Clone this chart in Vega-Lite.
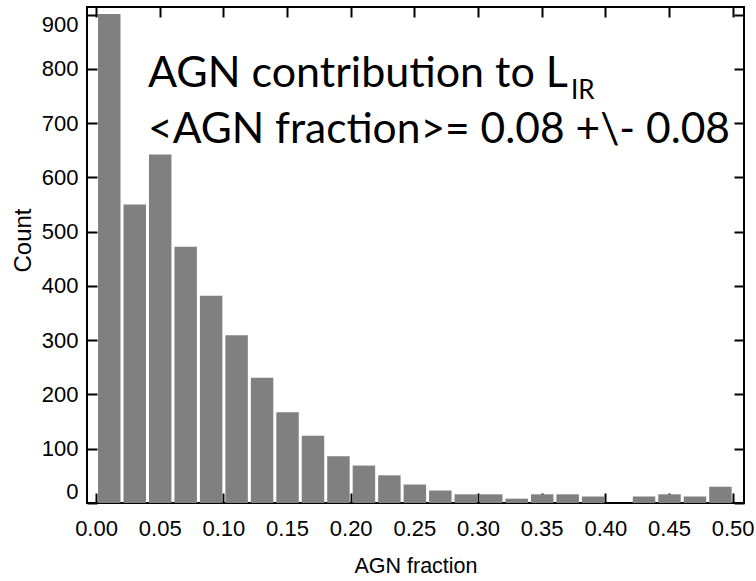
{
  "$schema": "https://vega.github.io/schema/vega-lite/v6.json",
  "width": 657,
  "height": 496,
  "autosize": {"type": "none"},
  "padding": {"left": 87, "top": 7, "right": 12, "bottom": 78},
  "background": "white",
  "config": {
    "view": {"stroke": "black", "strokeWidth": 2},
    "axis": {
      "domain": false,
      "grid": false,
      "tickColor": "black",
      "tickWidth": 2,
      "tickSize": -10,
      "labelFont": "Liberation Sans",
      "labelFontSize": 22,
      "labelColor": "black",
      "titleFont": "Liberation Sans",
      "titleFontSize": 24,
      "titleFontWeight": "normal",
      "titleColor": "black"
    }
  },
  "data": {
    "values": [
      {"start": 0.00, "end": 0.02, "count": 901},
      {"start": 0.02, "end": 0.04, "count": 550},
      {"start": 0.04, "end": 0.06, "count": 642},
      {"start": 0.06, "end": 0.08, "count": 472},
      {"start": 0.08, "end": 0.10, "count": 382},
      {"start": 0.10, "end": 0.12, "count": 309},
      {"start": 0.12, "end": 0.14, "count": 231},
      {"start": 0.14, "end": 0.16, "count": 167},
      {"start": 0.16, "end": 0.18, "count": 124},
      {"start": 0.18, "end": 0.20, "count": 86},
      {"start": 0.20, "end": 0.22, "count": 69},
      {"start": 0.22, "end": 0.24, "count": 51},
      {"start": 0.24, "end": 0.26, "count": 34},
      {"start": 0.26, "end": 0.28, "count": 23},
      {"start": 0.28, "end": 0.30, "count": 16},
      {"start": 0.30, "end": 0.32, "count": 16},
      {"start": 0.32, "end": 0.34, "count": 8},
      {"start": 0.34, "end": 0.36, "count": 16},
      {"start": 0.36, "end": 0.38, "count": 16},
      {"start": 0.38, "end": 0.40, "count": 12},
      {"start": 0.40, "end": 0.42, "count": 0},
      {"start": 0.42, "end": 0.44, "count": 12},
      {"start": 0.44, "end": 0.46, "count": 16},
      {"start": 0.46, "end": 0.48, "count": 12},
      {"start": 0.48, "end": 0.50, "count": 30}
    ]
  },
  "layer": [
    {
      "mark": {"type": "bar", "color": "#808080", "binSpacing": 3},
      "encoding": {
        "x": {
          "field": "start", "type": "quantitative", "bin": "binned",
          "scale": {"domain": [-0.0071, 0.5089], "nice": false, "zero": false},
          "axis": {"orient": "bottom", "title": "AGN fraction", "titleFontSize": 21.5, "values": [0, 0.05, 0.1, 0.15, 0.2, 0.25, 0.3, 0.35, 0.4, 0.45, 0.5], "format": ".2f", "labelPadding": 25, "titlePadding": 16}
        },
        "x2": {"field": "end"},
        "y": {
          "field": "count", "type": "quantitative",
          "scale": {"domain": [0, 914], "nice": false},
          "axis": {"orient": "left", "title": "Count", "titleY": 233, "values": [0, 100, 200, 300, 400, 500, 600, 700, 800, 900], "format": "d", "labelPadding": 19, "labelFlush": 10, "titlePadding": 6}
        }
      }
    },
    {
      "mark": {"type": "bar", "opacity": 0, "binSpacing": 3},
      "encoding": {
        "x": {
          "field": "start", "type": "quantitative", "bin": "binned",
          "axis": {"orient": "top", "title": null, "labels": false, "values": [0, 0.05, 0.1, 0.15, 0.2, 0.25, 0.3, 0.35, 0.4, 0.45, 0.5]}
        },
        "x2": {"field": "end"},
        "y": {
          "field": "count", "type": "quantitative",
          "axis": {"orient": "right", "title": null, "labels": false, "values": [0, 100, 200, 300, 400, 500, 600, 700, 800, 900]}
        }
      }
    },
    {
      "data": {"values": [{}]},
      "mark": {"type": "text", "text": "AGN contribution to L", "font": "Lato", "fontSize": 43, "align": "left", "baseline": "alphabetic", "color": "black"},
      "encoding": {
        "x": {"datum": 0.0408, "type": "quantitative", "axis": null},
        "y": {"datum": 767.5, "type": "quantitative", "axis": null}
      }
    },
    {
      "data": {"values": [{}]},
      "mark": {"type": "text", "text": "IR", "font": "Lato", "fontSize": 26, "align": "left", "baseline": "alphabetic", "color": "black"},
      "encoding": {
        "x": {"datum": 0.373, "type": "quantitative", "axis": null},
        "y": {"datum": 745, "type": "quantitative", "axis": null}
      }
    },
    {
      "data": {"values": [{}]},
      "mark": {"type": "text", "text": "<AGN fraction>= 0.08 +\\- 0.08", "font": "Lato", "fontSize": 42.5, "align": "left", "baseline": "alphabetic", "color": "black"},
      "encoding": {
        "x": {"datum": 0.0408, "type": "quantitative", "axis": null},
        "y": {"datum": 664.3, "type": "quantitative", "axis": null}
      }
    }
  ],
  "resolve": {"axis": {"x": "independent", "y": "independent"}}
}
